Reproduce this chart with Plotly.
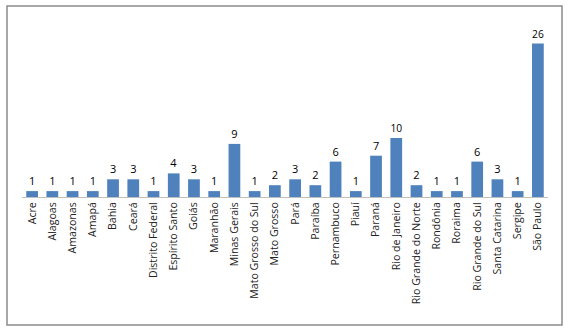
import plotly.graph_objects as go

estados = ["Acre", "Alagoas", "Amazonas", "Amapá", "Bahia", "Ceará", "Distrito Federal",
           "Espírito Santo", "Goiás", "Maranhão", "Minas Gerais", "Mato Grosso do Sul",
           "Mato Grosso", "Pará", "Paraíba", "Pernambuco", "Piauí", "Paraná",
           "Rio de Janeiro", "Rio Grande do Norte", "Rondônia", "Roraima",
           "Rio Grande do Sul", "Santa Catarina", "Sergipe", "São Paulo"]
valores = [1, 1, 1, 1, 3, 3, 1, 4, 3, 1, 9, 1, 2, 3, 2, 6, 1, 7, 10, 2, 1, 1, 6, 3, 1, 26]

fig = go.Figure(go.Bar(
    x=estados, y=valores,
    marker=dict(color="#4F81BD", line=dict(width=0)),
    text=[str(v) for v in valores], textposition="outside",
    textfont=dict(family="Open Sans, Liberation Sans, sans-serif", size=11, color="#000000"),
    cliponaxis=False,
))

fig.update_layout(
    width=568, height=332,
    margin=dict(l=22, r=20, t=20, b=135),
    paper_bgcolor="white", plot_bgcolor="white",
    bargap=0.42,
    showlegend=False,
    xaxis=dict(tickangle=-90, showgrid=False, showline=True, linecolor="#BFBFBF", linewidth=1,
               ticks="", tickfont=dict(family="Open Sans, Liberation Sans, sans-serif", size=10.6, color="#222222")),
    yaxis=dict(range=[0, 30], visible=False),
    shapes=[dict(type="rect", xref="paper", yref="paper",
                 x0=-15/526, x1=540/526, y0=-128/177, y1=191/177,
                 line=dict(color="#8C8C8C", width=1.5), fillcolor="rgba(0,0,0,0)", layer="below")],
)

fig.write_html("out.html")
